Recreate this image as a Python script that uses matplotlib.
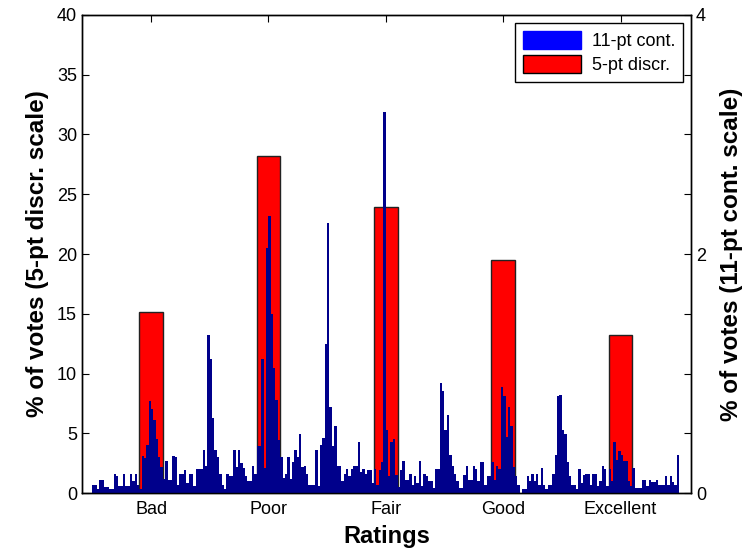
import matplotlib.pyplot as plt
import numpy as np
from matplotlib.patches import Patch

plt.rcParams['font.family'] = ['Liberation Sans', 'DejaVu Sans']

ratings = ['Bad', 'Poor', 'Fair', 'Good', 'Excellent']
# % of votes on the 5-pt discrete scale
discr_votes = [15.15, 28.2, 23.95, 19.5, 13.2]

# % of votes on the 11-pt continuous scale, 250 bins from Bad-0.5 to Excellent+0.5
cont_votes = [
    0.07, 0.07, 0.03, 0.11, 0.11, 0.05, 0.05, 0.03, 0.03, 0.16,
    0.14, 0.06, 0.06, 0.16, 0.06, 0.06, 0.16, 0.10, 0.16, 0.07,
    0.03, 0.31, 0.29, 0.40, 0.77, 0.70, 0.61, 0.45, 0.30, 0.22,
    0.12, 0.27, 0.11, 0.11, 0.31, 0.30, 0.07, 0.16, 0.16, 0.19,
    0.08, 0.16, 0.16, 0.06, 0.20, 0.20, 0.20, 0.36, 0.23, 1.32,
    1.12, 0.63, 0.36, 0.30, 0.16, 0.07, 0.03, 0.16, 0.14, 0.14,
    0.36, 0.22, 0.36, 0.25, 0.21, 0.14, 0.10, 0.10, 0.23, 0.16,
    0.39, 0.39, 1.12, 0.21, 2.05, 2.32, 1.50, 1.05, 0.78, 0.44,
    0.30, 0.13, 0.16, 0.30, 0.12, 0.26, 0.36, 0.30, 0.49, 0.22,
    0.23, 0.16, 0.07, 0.07, 0.07, 0.36, 0.06, 0.40, 0.46, 1.25,
    2.26, 0.72, 0.39, 0.56, 0.23, 0.23, 0.10, 0.16, 0.20, 0.14,
    0.20, 0.23, 0.23, 0.43, 0.18, 0.20, 0.16, 0.19, 0.19, 0.08,
    0.20, 0.07, 0.19, 0.26, 3.19, 0.53, 0.14, 0.43, 0.45, 0.15,
    0.05, 0.19, 0.27, 0.11, 0.11, 0.16, 0.07, 0.14, 0.08, 0.27,
    0.06, 0.16, 0.14, 0.10, 0.10, 0.04, 0.20, 0.20, 0.92, 0.85,
    0.53, 0.65, 0.32, 0.23, 0.16, 0.10, 0.04, 0.04, 0.15, 0.23,
    0.11, 0.11, 0.23, 0.20, 0.10, 0.26, 0.26, 0.07, 0.14, 0.14,
    0.26, 0.11, 0.23, 0.20, 0.89, 0.81, 0.47, 0.72, 0.56, 0.22,
    0.14, 0.07, 0.00, 0.03, 0.03, 0.14, 0.10, 0.16, 0.10, 0.16,
    0.07, 0.21, 0.07, 0.03, 0.07, 0.07, 0.16, 0.32, 0.81, 0.82,
    0.53, 0.49, 0.26, 0.14, 0.07, 0.07, 0.03, 0.20, 0.08, 0.15,
    0.16, 0.16, 0.07, 0.16, 0.16, 0.06, 0.10, 0.23, 0.20, 0.06,
    0.20, 0.10, 0.43, 0.28, 0.35, 0.32, 0.27, 0.27, 0.10, 0.06,
    0.21, 0.04, 0.04, 0.04, 0.11, 0.11, 0.06, 0.11, 0.09, 0.09,
    0.11, 0.07, 0.07, 0.07, 0.14, 0.07, 0.14, 0.09, 0.07, 0.32,
]

fig = plt.figure(figsize=(7.51, 5.54), dpi=100)
ax = fig.add_axes([0.109, 0.110, 0.811, 0.863])

pos = np.arange(1, len(ratings) + 1)
ax.bar(pos, discr_votes, width=0.2, color='#ff0000', edgecolor='#222222', linewidth=1.0, zorder=1)
ax.set_xlim(0.41, 5.60)
ax.set_ylim(0, 40)
ax.set_yticks(np.arange(0, 41, 5))
ax.set_xticks(pos)
ax.set_xticklabels(ratings)
ax.tick_params(axis='both', direction='in', length=5, labelsize=13, width=0.8)
ax.tick_params(axis='x', top=True, pad=6)
ax.set_xlabel('Ratings', fontsize=17, fontweight='bold', labelpad=5)
ax.set_ylabel('% of votes (5-pt discr. scale)', fontsize=17.5, fontweight='bold', labelpad=6)

ax2 = ax.twinx()
edges = np.linspace(0.5, 5.5, len(cont_votes) + 1)
ax2.bar(edges[:-1], cont_votes, width=np.diff(edges), align='edge',
        color='#00008b', edgecolor='none', linewidth=0)
ax2.set_ylim(0, 4)
ax2.set_yticks(np.arange(0, 4.01, 0.5))
ax2.set_yticklabels(['0', '', '', '', '2', '', '', '', '4'])
ax2.tick_params(axis='y', direction='in', length=5, labelsize=13, width=0.8)
ax2.set_ylabel('% of votes (11-pt cont. scale)', fontsize=17.5, fontweight='bold', labelpad=10)

for a in (ax, ax2):
    for s in a.spines.values():
        s.set_linewidth(1.0)

handles = [Patch(facecolor='#0000ff', edgecolor='#0000ff'),
           Patch(facecolor='#ff0000', edgecolor='black')]
leg = ax2.legend(handles, ['11-pt cont.', '5-pt discr.'], loc='upper right',
                 fontsize=13, fancybox=False, framealpha=1, edgecolor='black',
                 handlelength=3.2, handleheight=1.1, borderpad=0.45,
                 labelspacing=0.3, handletextpad=0.6, borderaxespad=0,
                 bbox_to_anchor=(0.987, 0.983))
leg.get_frame().set_linewidth(1.0)

fig.savefig('out.png', dpi=100)
